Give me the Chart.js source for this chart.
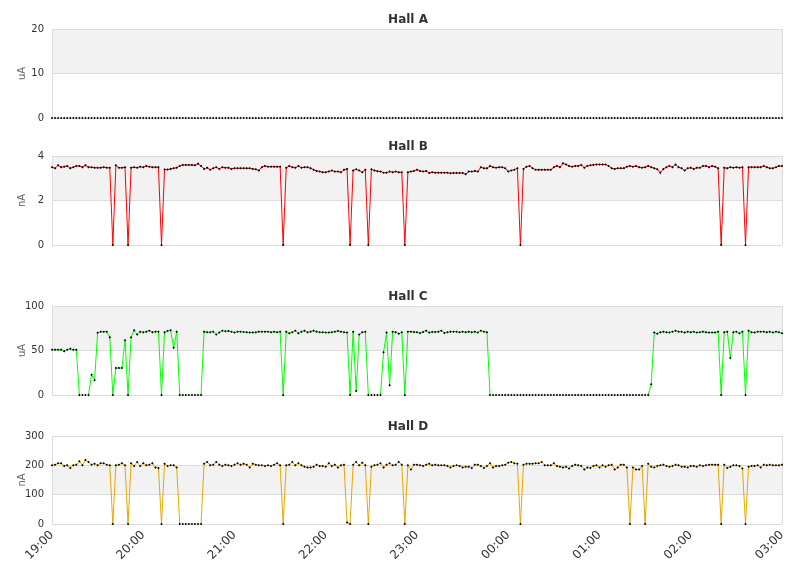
<!DOCTYPE html>
<html>
<head>
<meta charset="utf-8">
<script src="https://cdn.jsdelivr.net/npm/chart.js@4/dist/chart.umd.min.js"></script>
<style>
  html, body { margin: 0; padding: 0; background: #fff; overflow: hidden; width: 811px; height: 578px; }
  .wrap { position: absolute; left: 0; width: 816px; }
</style>
</head>
<body>
<div class="wrap" style="top:0px;height:132px"><canvas id="cA" width="816" height="132"></canvas></div>
<div class="wrap" style="top:127px;height:132px"><canvas id="cB" width="816" height="132"></canvas></div>
<div class="wrap" style="top:277px;height:132px"><canvas id="cC" width="816" height="132"></canvas></div>
<div class="wrap" style="top:407px;height:171px"><canvas id="cD" width="816" height="171"></canvas></div>
<script>
// Time axis: one sample every 2 minutes from 19:00 to 03:00
const startLabel = '19:00';
const stepMinutes = 2;
const tickLabels = ['19:00','20:00','21:00','22:00','23:00','00:00','01:00','02:00','03:00'];
const minutes = [];
for (let m = 0; m <= 480; m += stepMinutes) minutes.push(m);

const hallA = [
0,0,0,0,0,0,0,0,0,0, 0,0,0,0,0,0,0,0,0,0, 0,0,0,0,0,0,0,0,0,0, 0,0,0,0,0,0,0,0,0,0,
0,0,0,0,0,0,0,0,0,0, 0,0,0,0,0,0,0,0,0,0, 0,0,0,0,0,0,0,0,0,0, 0,0,0,0,0,0,0,0,0,0,
0,0,0,0,0,0,0,0,0,0, 0,0,0,0,0,0,0,0,0,0, 0,0,0,0,0,0,0,0,0,0, 0,0,0,0,0,0,0,0,0,0,
0,0,0,0,0,0,0,0,0,0, 0,0,0,0,0,0,0,0,0,0, 0,0,0,0,0,0,0,0,0,0, 0,0,0,0,0,0,0,0,0,0,
0,0,0,0,0,0,0,0,0,0, 0,0,0,0,0,0,0,0,0,0, 0,0,0,0,0,0,0,0,0,0, 0,0,0,0,0,0,0,0,0,0,
0,0,0,0,0,0,0,0,0,0, 0,0,0,0,0,0,0,0,0,0, 0,0,0,0,0,0,0,0,0,0, 0,0,0,0,0,0,0,0,0,0,
0
];

const hallB = [
3.50,3.45,3.58,3.50,3.52,3.55,3.45,3.50,3.55,3.55,
3.50,3.58,3.50,3.50,3.47,3.47,3.47,3.50,3.47,3.47,
0,3.58,3.47,3.47,3.50,0,3.47,3.50,3.47,3.52,
3.50,3.55,3.52,3.50,3.50,3.50,0,3.39,3.39,3.42,
3.45,3.47,3.55,3.60,3.60,3.60,3.60,3.58,3.65,3.55,
3.42,3.47,3.38,3.45,3.50,3.42,3.50,3.47,3.47,3.42,
3.45,3.45,3.45,3.45,3.45,3.45,3.42,3.40,3.35,3.50,
3.55,3.52,3.52,3.52,3.52,3.52,0,3.47,3.55,3.50,
3.47,3.55,3.47,3.50,3.50,3.45,3.38,3.33,3.30,3.27,
3.27,3.30,3.35,3.30,3.30,3.27,3.38,3.42,0,3.35,
3.40,3.35,3.27,3.38,0,3.40,3.35,3.32,3.30,3.25,
3.25,3.30,3.27,3.30,3.27,3.27,0,3.27,3.30,3.33,
3.38,3.33,3.30,3.33,3.24,3.27,3.25,3.25,3.25,3.25,
3.25,3.22,3.24,3.24,3.24,3.24,3.18,3.30,3.30,3.33,
3.30,3.50,3.45,3.45,3.55,3.50,3.47,3.50,3.50,3.45,
3.30,3.35,3.38,3.45,0,3.42,3.52,3.55,3.45,3.38,
3.38,3.38,3.38,3.38,3.38,3.50,3.55,3.50,3.67,3.62,
3.55,3.52,3.55,3.55,3.60,3.47,3.55,3.58,3.60,3.62,
3.62,3.62,3.62,3.55,3.45,3.42,3.45,3.45,3.45,3.52,
3.55,3.52,3.55,3.50,3.47,3.50,3.55,3.50,3.45,3.40,
3.25,3.42,3.50,3.55,3.50,3.62,3.50,3.45,3.35,3.45,
3.47,3.42,3.47,3.47,3.55,3.55,3.50,3.55,3.52,3.45,
0,3.47,3.45,3.50,3.47,3.50,3.47,3.50,0,3.50,
3.50,3.50,3.50,3.50,3.55,3.50,3.45,3.45,3.50,3.55,
3.55
];

const hallC = [
50.8,50.8,50.8,50.8,49.2,50.8,51.9,50.8,50.8,0,
0,0,0,22.7,16.7,70.0,71.0,71.0,71.2,65.0,
0,30.3,30.3,30.3,61.4,0,65.0,72.7,68.0,71.0,
70.5,71.2,72.3,70.5,71.2,71.2,0,70.5,72.0,72.7,
53.0,71.2,0,0,0,0,0,0,0,0,
71.2,70.5,70.5,71.2,68.0,70.1,72.3,71.6,72.0,71.2,
70.1,71.2,71.2,70.8,70.5,70.1,70.1,70.5,71.2,71.2,
71.2,71.2,70.5,71.2,70.5,71.2,0,71.2,69.3,70.5,
72.3,69.3,71.2,72.3,70.5,71.2,72.3,71.2,70.5,70.5,
70.1,70.1,70.5,71.2,72.0,71.2,70.5,70.1,0,71.2,
4.5,68.0,70.5,71.2,0,0,0,0,0,48.0,
70.1,11.0,71.2,70.5,68.9,70.5,0,71.2,71.2,70.8,
70.5,69.7,70.8,72.3,70.1,70.8,70.8,71.2,72.3,69.7,
70.5,71.2,71.2,71.2,70.5,71.2,70.5,71.2,70.5,71.2,
70.1,72.3,71.2,70.5,0,0,0,0,0,0,
0,0,0,0,0,0,0,0,0,0,
0,0,0,0,0,0,0,0,0,0,
0,0,0,0,0,0,0,0,0,0,
0,0,0,0,0,0,0,0,0,0,
0,0,0,0,0,0,0,12.1,70.1,68.9,
70.5,71.2,70.5,70.1,71.2,72.3,71.2,71.2,70.1,71.2,
70.5,71.2,70.1,70.5,71.2,70.5,70.1,70.1,70.1,71.2,
0,70.5,71.2,41.7,70.5,71.2,69.3,71.2,0,72.3,
70.5,70.1,71.2,71.2,71.2,70.5,71.2,70.1,71.2,70.5,
69.3
];

const hallD = [
200,202,207,207,198,200,191,200,202,214,
200,218,211,202,205,200,207,207,202,200,
0,200,202,207,200,0,207,198,211,198,
207,200,202,207,193,191,0,205,198,200,
200,193,0,0,0,0,0,0,0,0,
205,211,200,202,211,202,198,202,200,198,
202,207,202,205,202,193,205,202,200,200,
198,200,198,202,207,200,0,200,202,211,
200,207,200,195,193,193,195,202,198,198,
195,207,198,202,193,200,202,5,0,202,
211,200,209,200,0,195,200,202,207,193,
202,207,200,202,211,202,0,200,186,202,
202,200,198,202,205,200,202,200,200,200,
198,193,198,200,198,193,195,195,191,202,
202,198,191,198,207,193,198,198,200,202,
209,211,207,205,0,202,205,205,205,207,
207,211,200,200,200,207,198,195,193,195,
189,198,202,200,198,186,193,191,198,200,
193,200,195,200,202,186,193,202,202,193,
0,193,186,186,198,0,205,195,193,198,
200,202,198,195,198,202,200,195,195,193,
198,198,195,200,198,200,202,202,202,202,
0,202,191,195,200,200,198,189,0,195,
198,198,200,193,202,200,202,200,200,200,
202
];

Chart.defaults.font.family = "'DejaVu Sans', sans-serif";

const GRID = '#dcdcdc';
const BAND = '#f2f2f2';

const bandsPlugin = {
  id: 'bands',
  beforeDraw(chart) {
    const { ctx, chartArea, scales } = chart;
    const y = scales.y;
    const ticks = y.ticks;
    ctx.save();
    ctx.fillStyle = BAND;
    for (let k = 1; k < ticks.length - 1; k += 2) {
      const top = y.getPixelForValue(ticks[k + 1].value);
      const bot = y.getPixelForValue(ticks[k].value);
      ctx.fillRect(chartArea.left, top, chartArea.right - chartArea.left, bot - top);
    }
    ctx.restore();
  },
  beforeDatasetsDraw(chart) {
    const { ctx, chartArea } = chart;
    ctx.save();
    ctx.strokeStyle = GRID;
    ctx.lineWidth = 1;
    ctx.beginPath();
    ctx.moveTo(Math.round(chartArea.right) + 0.5, chartArea.top);
    ctx.lineTo(Math.round(chartArea.right) + 0.5, chartArea.bottom);
    ctx.stroke();
    ctx.restore();
  }
};

function makeChart(id, title, unit, values, color, yMax, yStep, showX) {
  const pts = values.map((v, i) => ({ x: minutes[i], y: v }));
  return new Chart(document.getElementById(id), {
    type: 'line',
    data: {
      datasets: [{
        data: pts,
        borderColor: color,
        borderWidth: 1,
        pointStyle: 'rectRot',
        pointRadius: 1.25,
        pointBackgroundColor: '#000',
        pointBorderWidth: 0,
        pointHoverRadius: 2,
        tension: 0,
        clip: false,
        segment: {
          borderColor: c => (c.p0.parsed.y === 0 && c.p1.parsed.y === 0) ? 'rgba(0,0,0,0)' : undefined
        }
      }]
    },
    options: {
      responsive: false,
      animation: false,
      devicePixelRatio: 1,
      layout: { padding: 0 },
      plugins: {
        legend: { display: false },
        tooltip: { enabled: false },
        title: {
          display: true,
          text: title,
          color: '#333',
          font: { size: 12, weight: 'bold' },
          padding: { top: 12.6, bottom: 2 }
        }
      },
      scales: {
        x: {
          type: 'linear',
          min: 0,
          max: 480,
          display: showX,
          grid: { display: false, drawTicks: false },
          border: { display: false },
          ticks: {
            stepSize: 60,
            autoSkip: false,
            minRotation: 45,
            maxRotation: 45,
            padding: 4,
            color: '#333',
            font: { size: 12 },
            callback: (v) => tickLabels[Math.round(v / 60)]
          },
          afterFit: (s) => { if (showX) s.height = 54; }
        },
        y: {
          position: 'left',
          min: 0,
          max: yMax,
          grid: { color: GRID, drawTicks: false },
          border: { display: true, color: GRID },
          ticks: {
            stepSize: yStep,
            padding: 8,
            color: '#333',
            font: { size: 10 }
          },
          title: {
            display: true,
            text: unit,
            color: '#666',
            font: { size: 10 },
            padding: { top: 16, bottom: 0 }
          },
          afterFit: (s) => { s.width = 52; }
        },
        spacer: {
          position: 'right',
          type: 'linear',
          min: 0,
          max: 1,
          grid: { display: false, drawTicks: false },
          border: { display: false },
          ticks: { display: false },
          afterFit: (s) => { s.width = 34; }
        }
      }
    },
    plugins: [bandsPlugin]
  });
}

makeChart('cA', 'Hall A', 'uA', hallA, '#3366cc', 20, 10, false);
makeChart('cB', 'Hall B', 'nA', hallB, '#ff0000', 4, 2, false);
makeChart('cC', 'Hall C', 'uA', hallC, '#00ff00', 100, 50, false);
makeChart('cD', 'Hall D', 'nA', hallD, '#e6a700', 300, 100, true);
</script>
</body>
</html>
